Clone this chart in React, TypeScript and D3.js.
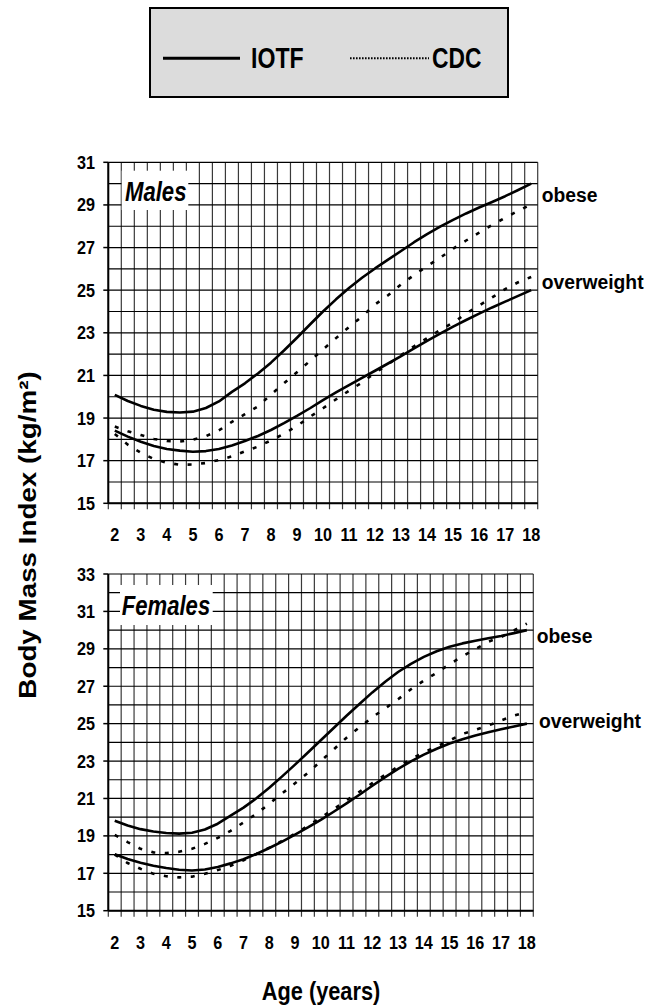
import React from "react";
import * as d3 from "d3";

// ---------- data ----------
const AGES = [2, 2.5, 3, 3.5, 4, 4.5, 5, 5.5, 6, 6.5, 7, 7.5, 8, 8.5, 9, 9.5, 10, 10.5, 11, 11.5, 12, 12.5, 13, 13.5, 14, 14.5, 15, 15.5, 16, 16.5, 17, 17.5, 18];
const X_LABELS = [2, 3, 4, 5, 6, 7, 8, 9, 10, 11, 12, 13, 14, 15, 16, 17, 18];
const MALE_Y_TICKS = [15, 17, 19, 21, 23, 25, 27, 29, 31];
const FEMALE_Y_TICKS = [15, 17, 19, 21, 23, 25, 27, 29, 31, 33];

const MALE_IOTF_OBESE = [20.09, 19.8, 19.57, 19.39, 19.29, 19.26, 19.3, 19.47, 19.78, 20.23, 20.63, 21.09, 21.6, 22.17, 22.77, 23.39, 24.0, 24.57, 25.1, 25.58, 26.02, 26.43, 26.84, 27.25, 27.63, 27.98, 28.3, 28.6, 28.88, 29.14, 29.41, 29.7, 30.0];
const MALE_IOTF_OVERWEIGHT = [18.41, 18.13, 17.89, 17.69, 17.55, 17.47, 17.42, 17.45, 17.55, 17.71, 17.92, 18.16, 18.44, 18.76, 19.1, 19.46, 19.84, 20.2, 20.55, 20.89, 21.22, 21.56, 21.91, 22.27, 22.62, 22.96, 23.29, 23.6, 23.9, 24.19, 24.46, 24.73, 25.0];
const MALE_CDC_95 = [18.6, 18.38, 18.2, 18.02, 17.92, 17.9, 17.98, 18.15, 18.42, 18.82, 19.18, 19.55, 20.1, 20.63, 21.15, 21.68, 22.22, 22.75, 23.27, 23.77, 24.33, 24.76, 25.27, 25.71, 26.13, 26.52, 26.95, 27.33, 27.7, 28.06, 28.4, 28.72, 29.03];
const MALE_CDC_85 = [18.25, 17.75, 17.37, 17.08, 16.9, 16.81, 16.82, 16.89, 17.03, 17.2, 17.44, 17.66, 17.95, 18.26, 18.63, 19.06, 19.46, 19.88, 20.28, 20.67, 21.12, 21.52, 21.95, 22.37, 22.75, 23.13, 23.48, 23.9, 24.28, 24.66, 25.05, 25.37, 25.62];

const FEMALE_IOTF_OBESE = [19.81, 19.55, 19.36, 19.23, 19.15, 19.12, 19.17, 19.34, 19.65, 20.08, 20.51, 21.01, 21.57, 22.18, 22.81, 23.46, 24.11, 24.77, 25.42, 26.05, 26.67, 27.24, 27.76, 28.2, 28.57, 28.87, 29.11, 29.29, 29.43, 29.56, 29.69, 29.84, 30.0];
const FEMALE_IOTF_OVERWEIGHT = [18.02, 17.76, 17.56, 17.4, 17.28, 17.19, 17.15, 17.2, 17.34, 17.53, 17.75, 18.03, 18.35, 18.69, 19.07, 19.45, 19.86, 20.29, 20.74, 21.2, 21.68, 22.14, 22.58, 22.98, 23.34, 23.66, 23.94, 24.17, 24.37, 24.54, 24.7, 24.85, 25.0];
const FEMALE_CDC_95 = [19.05, 18.67, 18.31, 18.12, 18.08, 18.15, 18.31, 18.57, 18.89, 19.27, 19.72, 20.18, 20.72, 21.27, 21.81, 22.37, 23.0, 23.62, 24.25, 24.8, 25.34, 25.82, 26.3, 26.84, 27.3, 27.72, 28.18, 28.6, 28.98, 29.38, 29.63, 29.98, 30.35];
const FEMALE_CDC_85 = [18.0, 17.55, 17.24, 16.97, 16.84, 16.78, 16.82, 16.97, 17.17, 17.4, 17.7, 18.03, 18.37, 18.73, 19.12, 19.53, 19.98, 20.43, 20.9, 21.36, 21.82, 22.27, 22.7, 23.1, 23.47, 23.78, 24.1, 24.45, 24.67, 24.9, 25.17, 25.43, 25.62];

const FONT = "'Liberation Sans', Arial, Helvetica, sans-serif";

function T({ x, y, size, sx = 1, anchor = "start", italic = false, children }: any) {
  return (
    <text
      transform={`translate(${x},${y}) scale(${sx},1)`}
      fontFamily={FONT}
      fontWeight="bold"
      fontStyle={italic ? "italic" : "normal"}
      fontSize={size}
      textAnchor={anchor}
      fill="#000"
    >
      {children}
    </text>
  );
}

function Panel({ left, right, top, bottom, yMin, yMax, yTicks, iotf, cdc, title, titleBox, titlePos, obesePos, overPos }: any) {
  const x = d3.scaleLinear().domain([1.75, 18.25]).range([left, right]);
  const y = d3.scaleLinear().domain([yMin, yMax]).range([bottom, top]);
  const bounds = AGES.map((a) => a - 0.25).concat([18.25]);
  const hVals = d3.range(yMin, yMax + 1);
  const line = d3
    .line<number>()
    .x((_, i) => x(AGES[i]))
    .y((d) => y(d));
  return (
    <g>
      {bounds.map((b, i) => (
        <line key={"v" + i} x1={x(b)} x2={x(b)} y1={top} y2={bottom + 6} stroke="#3a3a3a" strokeWidth={1.2} />
      ))}
      {hVals.map((v) => (
        <line key={"h" + v} x1={left} x2={right} y1={y(v)} y2={y(v)} stroke="#000" strokeWidth={1.2} />
      ))}
      <rect x={titleBox[0]} y={titleBox[1]} width={titleBox[2]} height={titleBox[3]} fill="#fff" />
      <line x1={left} x2={left} y1={top} y2={bottom} stroke="#000" strokeWidth={2} />
      <line x1={left} x2={right} y1={bottom} y2={bottom} stroke="#000" strokeWidth={2} />
      {yTicks.map((v: number) => (
        <line key={"yt" + v} x1={left - 5} x2={left} y1={y(v)} y2={y(v)} stroke="#000" strokeWidth={1.5} />
      ))}
      {yTicks.map((v: number) => (
        <T key={"yl" + v} x={95} y={y(v) + 6.5} size={18} sx={0.9} anchor="end">
          {v}
        </T>
      ))}
      {X_LABELS.map((v) => (
        <T key={"xl" + v} x={x(v)} y={bottom + 38} size={18} sx={0.9} anchor="middle">
          {v}
        </T>
      ))}
      {iotf.map((s: number[], i: number) => (
        <path key={"io" + i} d={line(s) || ""} fill="none" stroke="#000" strokeWidth={2.6} strokeLinejoin="round" />
      ))}
      {cdc.map((s: number[], i: number) => (
        <path key={"cdc" + i} d={line(s) || ""} fill="none" stroke="#000" strokeWidth={2.6} strokeDasharray="4 9.5" />
      ))}
      <T x={titlePos[0]} y={titlePos[1]} size={28} sx={0.79} italic>
        {title}
      </T>
      <T x={obesePos[0]} y={obesePos[1]} size={21} sx={0.92}>
        obese
      </T>
      <T x={overPos[0]} y={overPos[1]} size={21} sx={0.92}>
        overweight
      </T>
    </g>
  );
}

export default function App() {
  return (
    <svg
      width={657}
      height={1007}
      viewBox="0 0 657 1007"
      style={{ position: "absolute", left: 0, top: 0, background: "#fff" }}
    >
      <rect x={0} y={0} width={657} height={1007} fill="#fff" />
      {/* legend */}
      <rect x={150} y={8} width={358} height={89} fill="#dcdcdc" stroke="#000" strokeWidth={2} />
      <line x1={163} x2={240} y1={58.3} y2={58.3} stroke="#000" strokeWidth={3} />
      <T x={251} y={68.3} size={30} sx={0.77}>
        IOTF
      </T>
      <line x1={350} x2={429} y1={58.3} y2={58.3} stroke="#000" strokeWidth={2} strokeDasharray="1.6 1.4" />
      <T x={432} y={68.3} size={30} sx={0.76}>
        CDC
      </T>

      <Panel
        left={108.3}
        right={537.7}
        top={162.3}
        bottom={503.3}
        yMin={15}
        yMax={31}
        yTicks={MALE_Y_TICKS}
        iotf={[MALE_IOTF_OBESE, MALE_IOTF_OVERWEIGHT]}
        cdc={[MALE_CDC_95, MALE_CDC_85]}
        title="Males"
        titleBox={[121.7, 170.7, 66.6, 39.3]}
        titlePos={[125, 200.7]}
        obesePos={[541.7, 201.7]}
        overPos={[541.7, 289.3]}
      />
      <Panel
        left={108.3}
        right={533.3}
        top={574}
        bottom={910.7}
        yMin={15}
        yMax={33}
        yTicks={FEMALE_Y_TICKS}
        iotf={[FEMALE_IOTF_OBESE, FEMALE_IOTF_OVERWEIGHT]}
        cdc={[FEMALE_CDC_95, FEMALE_CDC_85]}
        title="Females"
        titleBox={[120, 585, 92.7, 40]}
        titlePos={[121.7, 615]}
        obesePos={[536.7, 643.3]}
        overPos={[539, 727.7]}
      />

      <text
        transform="translate(36,535) rotate(-90) scale(1,0.84)"
        fontFamily={FONT}
        fontWeight="bold"
        fontSize={27.8}
        textAnchor="middle"
      >
        Body Mass Index (kg/m²)
      </text>
      <T x={321} y={1000} size={25} sx={0.87} anchor="middle">
        Age (years)
      </T>
    </svg>
  );
}
